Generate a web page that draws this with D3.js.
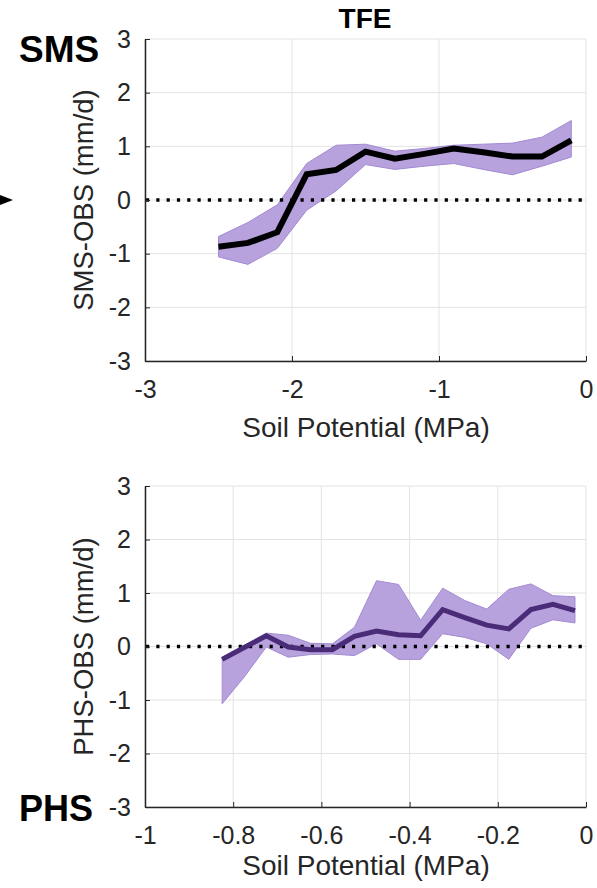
<!DOCTYPE html>
<html>
<head>
<meta charset="utf-8">
<script src="https://cdn.jsdelivr.net/npm/d3@7"></script>
<style>
  body { margin: 0; background: #fff; }
  svg { display: block; font-family: "Liberation Sans", Arial, sans-serif; }
  .tick text { fill: #262626; }
</style>
</head>
<body>
<svg width="597" height="888"></svg>
<script>
// top panel (SMS), soil potential bins
const smsX    = [-2.5, -2.3, -2.1, -1.9, -1.7, -1.5, -1.3, -1.1, -0.9, -0.7, -0.5, -0.3, -0.1];
const smsMean = [-0.87, -0.80, -0.60, 0.48, 0.56, 0.90, 0.77, 0.86, 0.96, 0.89, 0.81, 0.81, 1.11];
const smsLow  = [-1.06, -1.20, -0.90, -0.19, 0.17, 0.66, 0.57, 0.63, 0.68, 0.57, 0.47, 0.63, 0.80];
const smsHigh = [-0.68, -0.42, -0.09, 0.68, 1.02, 1.04, 0.91, 0.96, 1.02, 1.04, 1.06, 1.17, 1.48];

// bottom panel (PHS)
const phsX    = [-0.825, -0.775, -0.725, -0.675, -0.625, -0.575, -0.525, -0.475, -0.425,
                 -0.375, -0.325, -0.275, -0.225, -0.175, -0.125, -0.075, -0.025];
const phsMean = [-0.24, -0.02, 0.20, -0.01, -0.06, -0.06, 0.19, 0.29, 0.22,
                 0.20, 0.69, 0.54, 0.40, 0.33, 0.69, 0.79, 0.67];
const phsLow  = [-1.07, -0.57, -0.01, -0.20, -0.15, -0.14, -0.17, 0.05, -0.24,
                 -0.24, 0.24, 0.17, 0.05, -0.24, 0.34, 0.50, 0.44];
const phsHigh = [-0.20, 0.02, 0.25, 0.21, 0.06, 0.05, 0.36, 1.23, 1.16,
                 0.49, 1.09, 0.86, 0.70, 1.07, 1.17, 0.95, 0.93];

const yTicks = [-3, -2, -1, 0, 1, 2, 3];
const smsXTicks = [-3, -2, -1, 0];
const phsXTicks = [-1, -0.8, -0.6, -0.4, -0.2, 0];

var svg = d3.select('svg');

function drawPanel(p) {
    var x = d3.scaleLinear().domain(p.xDomain).range([145, 586]);
    var y = d3.scaleLinear().domain([-3, 3]).range([p.bottom, p.top]);
    var g = svg.append('g');

    // grid
    g.append('g').selectAll('line').data(p.xTicks).enter().append('line')
        .attr('x1', d => x(d)).attr('x2', d => x(d))
        .attr('y1', p.top).attr('y2', p.bottom)
        .attr('stroke', '#e3e3e3').attr('stroke-width', 1);
    g.append('g').selectAll('line').data(yTicks).enter().append('line')
        .attr('x1', 145).attr('x2', 586)
        .attr('y1', d => y(d)).attr('y2', d => y(d))
        .attr('stroke', '#e3e3e3').attr('stroke-width', 1);

    var pts = p.xs.map((v, i) => ({x: v, m: p.mean[i], lo: p.low[i], hi: p.high[i]}));

    var area = d3.area()
        .x(d => x(d.x))
        .y0(d => y(d.lo))
        .y1(d => y(d.hi));

    g.append('path').datum(pts)
        .attr('d', area)
        .attr('fill', '#b7a2de')
        .attr('stroke', '#a28ad2')
        .attr('stroke-width', 1);

    // zero reference
    g.append('line')
        .attr('x1', 146).attr('x2', 586)
        .attr('y1', y(0)).attr('y2', y(0))
        .attr('stroke', '#000').attr('stroke-width', 3.4)
        .attr('stroke-dasharray', '3.2,7.1');

    var line = d3.line()
        .x(d => x(d.x))
        .y(d => y(d.m));

    g.append('path').datum(pts)
        .attr('d', line)
        .attr('fill', 'none')
        .attr('stroke', p.lineColor)
        .attr('stroke-width', p.lineWidth)
        .attr('stroke-linejoin', 'miter');

    // axes, ticks pointing in
    var ax = g.append('g')
        .attr('transform', `translate(0,${p.bottom})`)
        .call(d3.axisBottom(x).tickValues(p.xTicks).tickSize(-5).tickSizeOuter(0).tickPadding(19)
            .tickFormat(d => String(d)));
    var ay = g.append('g')
        .attr('transform', 'translate(145,0)')
        .call(d3.axisLeft(y).tickValues(yTicks).tickSize(-5).tickSizeOuter(0).tickPadding(14)
            .tickFormat(d => String(d)));

    [ax, ay].forEach(a => {
        a.attr('font-size', null).attr('font-family', null);
        a.select('.domain').attr('stroke', '#262626').attr('stroke-width', 1.5);
        a.selectAll('.tick line').attr('stroke', '#262626').attr('stroke-width', 1);
        a.selectAll('.tick text').style('font-size', '25px');
    });
    ax.selectAll('.tick text').attr('dy', '0.71em');

    g.append('text')
        .attr('x', 366).attr('y', p.bottom + p.xlabOff)
        .attr('text-anchor', 'middle')
        .attr('font-size', 28)
        .attr('fill', '#262626')
        .text('Soil Potential (MPa)');

    g.append('text')
        .attr('transform', `translate(93,${(p.top + p.bottom) / 2}) rotate(-90)`)
        .attr('text-anchor', 'middle')
        .attr('font-size', 27.5)
        .attr('fill', '#262626')
        .text(p.ylab);
}

drawPanel({
    xDomain: [-3, 0], xTicks: smsXTicks, top: 39, bottom: 361,
    xs: smsX, mean: smsMean, low: smsLow, high: smsHigh,
    lineColor: '#000', lineWidth: 6, ylab: 'SMS-OBS (mm/d)', xlabOff: 76
});

drawPanel({
    xDomain: [-1, 0], xTicks: phsXTicks, top: 486, bottom: 807,
    xs: phsX, mean: phsMean, low: phsLow, high: phsHigh,
    lineColor: '#4a2b78', lineWidth: 5, ylab: 'PHS-OBS (mm/d)', xlabOff: 68
});

svg.append('text')
    .attr('x', 365).attr('y', 28)
    .attr('text-anchor', 'middle')
    .attr('font-size', 28).attr('font-weight', 'bold')
    .text('TFE');

svg.append('text')
    .attr('x', 19).attr('y', 62)
    .attr('font-size', 37).attr('font-weight', 'bold')
    .text('SMS');

svg.append('text')
    .attr('x', 19).attr('y', 821)
    .attr('font-size', 36).attr('font-weight', 'bold')
    .text('PHS');

// arrow at the left edge
svg.append('path')
    .attr('d', d3.line()([[0, 195], [13, 200], [0, 205]]) + 'Z')
    .attr('fill', '#000');
</script>
</body>
</html>
